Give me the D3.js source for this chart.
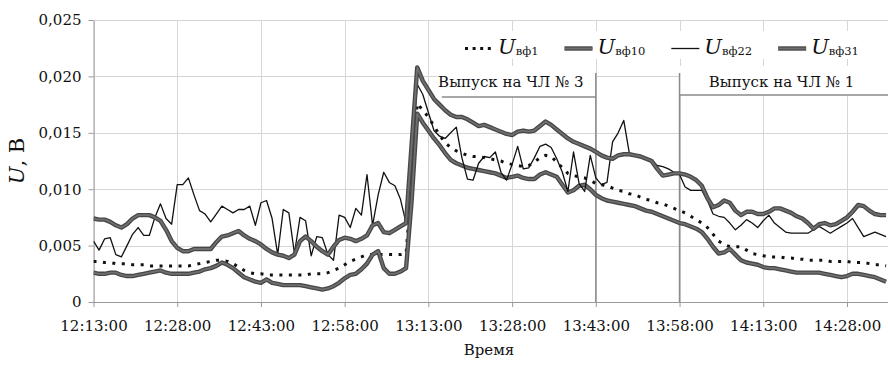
<!DOCTYPE html>
<html>
<head>
<meta charset="utf-8">
<script src="https://cdn.jsdelivr.net/npm/d3@7"></script>
<style>
  body { margin: 0; background: #fff; }
  svg { display: block; font-family: "DejaVu Serif", serif; }
</style>
</head>
<body>
<svg id="chart" width="888" height="374"></svg>
<script>
// one sample per minute from startTime, values in mV
const startTime = "12:13:00";

const u1 = [
  3.6,3.6,3.5,3.5,3.4,3.4,3.4,3.3,3.3,3.3,
  3.2,3.2,3.2,3.2,3.2,3.2,3.2,3.2,3.3,3.4,
  3.5,3.6,3.7,3.7,3.6,3.4,3.1,2.8,2.6,2.5,
  2.5,2.4,2.4,2.4,2.4,2.4,2.4,2.4,2.4,2.5,
  2.5,2.5,2.6,2.8,3.0,3.3,3.6,3.8,4.0,4.2,
  4.2,4.2,4.2,4.2,4.2,4.2,4.3,10.5,17.6,17.0,
  16.4,15.6,14.8,14.1,13.7,13.4,13.2,13.0,12.9,12.9,
  12.8,12.7,12.6,12.5,12.3,12.2,12.1,12.0,12.1,12.4,
  12.8,13.0,12.9,12.4,11.9,11.4,11.2,11.1,11.0,10.8,
  10.5,10.4,10.3,10.1,9.9,9.8,9.6,9.5,9.3,9.1,
  9.0,8.8,8.7,8.5,8.3,8.1,7.9,7.6,7.3,7.0,
  6.6,6.0,5.4,5.1,4.9,4.9,4.9,4.6,4.3,4.2,
  4.1,4.0,4.0,4.0,3.9,3.9,3.8,3.8,3.7,3.7,
  3.7,3.7,3.6,3.6,3.6,3.6,3.5,3.5,3.5,3.4,
  3.3,3.3,3.2
];

const u10 = [
  2.6,2.5,2.5,2.6,2.6,2.4,2.3,2.3,2.4,2.5,
  2.6,2.7,2.8,2.6,2.5,2.5,2.5,2.5,2.6,2.7,
  2.9,3.0,3.2,3.5,3.3,3.0,2.6,2.2,2.0,1.8,
  1.7,2.0,1.7,1.6,1.5,1.5,1.5,1.5,1.4,1.3,
  1.2,1.1,1.2,1.4,1.7,2.1,2.4,2.5,2.9,3.4,
  4.2,4.5,3.0,2.5,2.5,2.7,3.0,9.0,16.7,15.9,
  15.2,14.5,13.9,13.2,12.6,12.3,12.1,11.9,11.8,11.7,
  11.6,11.5,11.4,11.2,11.0,11.1,11.2,11.0,10.9,10.9,
  11.3,11.5,11.3,11.1,10.4,9.7,9.9,10.3,10.4,10.0,
  9.5,9.2,9.0,8.9,8.8,8.7,8.6,8.5,8.3,8.1,
  8.0,7.8,7.6,7.4,7.2,7.0,6.9,6.7,6.5,6.2,
  5.6,4.9,4.3,4.4,4.7,4.2,3.7,3.5,3.4,3.3,
  3.1,3.0,3.0,2.9,2.8,2.7,2.6,2.6,2.6,2.6,
  2.6,2.5,2.4,2.3,2.2,2.3,2.5,2.5,2.4,2.3,
  2.2,2.0,1.8
];

const u22 = [
  5.4,4.6,5.6,5.7,4.2,4.0,5.0,6.0,6.6,5.9,
  5.9,7.5,8.7,7.4,6.9,10.4,10.4,11.0,9.5,8.1,
  7.8,7.1,7.8,8.5,8.2,7.9,8.2,8.2,8.5,6.8,
  8.8,9.0,7.4,4.2,8.2,7.9,4.3,7.5,7.2,4.1,
  5.8,5.7,4.2,3.7,7.7,7.5,6.6,8.3,7.7,11.3,
  6.8,9.5,11.5,10.6,10.3,9.1,7.0,13.0,19.3,18.4,
  16.8,15.2,14.7,14.5,15.0,15.5,12.8,10.9,10.8,12.3,
  12.9,12.8,13.3,11.5,10.8,12.2,13.8,11.8,11.9,12.8,
  13.8,14.0,13.7,12.7,11.5,9.8,13.3,10.5,9.8,13.0,
  11.0,10.4,10.6,14.2,15.0,16.1,13.2,13.0,12.9,12.8,
  12.6,12.1,12.0,11.8,11.5,11.3,10.2,9.9,9.9,9.9,
  9.0,7.8,7.6,7.5,7.0,6.4,6.8,7.3,7.0,6.6,
  7.2,7.7,7.0,6.6,6.2,6.1,6.1,6.1,6.1,6.4,
  6.7,6.4,6.1,6.4,6.7,7.0,7.4,6.6,5.8,6.0,
  6.2,6.0,5.8
];

const u31 = [
  7.4,7.3,7.3,7.1,6.8,6.6,6.9,7.4,7.7,7.7,
  7.7,7.5,7.2,6.4,5.4,4.8,4.5,4.5,4.7,4.7,
  4.7,4.7,5.3,5.8,5.9,6.1,6.3,5.9,5.6,5.4,
  5.1,4.7,4.4,4.2,4.1,3.9,4.2,5.4,5.8,5.4,
  4.9,4.5,4.2,4.9,5.5,5.7,5.6,5.4,5.6,5.9,
  6.8,7.0,6.2,6.1,6.4,6.7,7.0,14.0,20.8,19.6,
  18.8,18.0,17.5,17.0,16.6,16.4,16.4,16.2,15.9,15.6,
  15.7,15.5,15.3,15.1,14.9,14.8,15.1,15.2,15.1,15.2,
  15.6,16.0,15.7,15.3,14.9,14.5,14.2,14.0,13.8,13.6,
  13.3,13.0,12.8,12.7,13.0,13.1,13.1,13.0,12.9,12.7,
  12.5,11.8,11.2,11.3,11.4,11.4,11.3,11.1,10.8,10.3,
  9.2,8.4,8.6,9.0,8.8,8.1,7.7,8.0,8.0,7.8,
  7.8,8.0,8.3,8.3,8.1,7.9,7.6,7.4,7.0,6.5,
  6.9,7.0,6.8,6.9,7.2,7.5,8.0,8.6,8.5,8.1,
  7.8,7.7,7.7
];

const seriesNames = ["вф1", "вф10", "вф22", "вф31"];
const xTickLabels = ["12:13:00", "12:28:00", "12:43:00", "12:58:00", "13:13:00",
                     "13:28:00", "13:43:00", "13:58:00", "14:13:00", "14:28:00"];
const yTicks = [0, 5, 10, 15, 20, 25];
const yTickLabels = ["0", "0,005", "0,010", "0,015", "0,020", "0,025"];
const releaseTimes = ["13:43:00", "13:58:00"];
const releaseLabels = ["Выпуск на ЧЛ № 3", "Выпуск на ЧЛ № 1"];

const svg = d3.select('#chart');
const W = 888, plotLeft = 93.5, plotTop = 20, plotBottom = 302;

const parse = d3.timeParse('%H:%M:%S');
const t0 = parse(startTime);
const times = u1.map((_, i) => d3.timeMinute.offset(t0, i));

const x = d3.scaleTime()
  .domain([parse(xTickLabels[0]), parse(xTickLabels[xTickLabels.length - 1])])
  .range([plotLeft, 847]);
const y = d3.scaleLinear().domain([0, 25]).range([plotBottom, plotTop]);

// grid
const grid = svg.append('g').attr('stroke', '#d6d6d6').attr('stroke-width', 1);
grid.selectAll('.h').data(yTicks).enter().append('line')
  .attr('x1', plotLeft).attr('x2', W)
  .attr('y1', d => Math.round(y(d)) + 0.5).attr('y2', d => Math.round(y(d)) + 0.5);
grid.selectAll('.v').data(xTickLabels).enter().append('line')
  .attr('x1', d => Math.round(x(parse(d))) + 0.5).attr('x2', d => Math.round(x(parse(d))) + 0.5)
  .attr('y1', plotTop).attr('y2', plotBottom);

// axes
const yAxis = svg.append('g')
  .attr('transform', `translate(${plotLeft},0)`)
  .call(d3.axisLeft(y).tickValues(yTicks).tickFormat((d, i) => yTickLabels[i])
    .tickSize(5).tickSizeOuter(0).tickPadding(7));
const xAxis = svg.append('g')
  .attr('transform', `translate(0,${plotBottom})`)
  .call(d3.axisBottom(x).tickValues(xTickLabels.map(parse)).tickFormat((d, i) => xTickLabels[i])
    .tickSize(5).tickSizeOuter(0).tickPadding(13));
[yAxis, xAxis].forEach(a => {
  a.selectAll('path, line').attr('stroke', '#9a9a9a');
  a.selectAll('text').attr('font-family', '"DejaVu Serif", serif').attr('font-size', 15).attr('fill', '#111');
});
svg.append('line').attr('x1', plotLeft).attr('x2', W).attr('y1', plotBottom + 0.5).attr('y2', plotBottom + 0.5)
  .attr('stroke', '#9a9a9a');

// release annotations: white boxes behind the labels
const rx = releaseTimes.map(t => x(parse(t)));
svg.append('rect').attr('x', rx[0] - 157).attr('y', 66).attr('width', 157).attr('height', 31).attr('fill', '#fff');
svg.append('rect').attr('x', rx[1]).attr('y', 66).attr('width', W - rx[1]).attr('height', 29).attr('fill', '#fff');

// legend background
svg.append('rect').attr('x', 452).attr('y', 31).attr('width', W - 452).attr('height', 28).attr('fill', '#fff');

const ann = svg.append('g').attr('stroke', '#8a8a8a').attr('stroke-width', 1.5);
ann.append('line').attr('x1', rx[0]).attr('x2', rx[0]).attr('y1', 73).attr('y2', plotBottom);
ann.append('line').attr('x1', rx[0] - 154).attr('x2', rx[0]).attr('y1', 97).attr('y2', 97);
ann.append('line').attr('x1', rx[1]).attr('x2', rx[1]).attr('y1', 73).attr('y2', plotBottom);
ann.append('line').attr('x1', rx[1]).attr('x2', W).attr('y1', 95).attr('y2', 95);
svg.append('text').attr('x', rx[0] - 85).attr('y', 87).attr('text-anchor', 'middle')
  .attr('font-size', 15).attr('fill', '#111').text(releaseLabels[0]);
svg.append('text').attr('x', rx[1] + 102).attr('y', 87).attr('text-anchor', 'middle')
  .attr('font-size', 15).attr('fill', '#111').text(releaseLabels[1]);

// series
const kinds = ['dot', 'thick', 'thin', 'thick'];
const values = [u1, u10, u22, u31];

function stroke(g, d, kind, legend) {
  if (kind === 'thick') {
    g.append('path').attr('d', d).attr('fill', 'none').attr('stroke', '#474747')
      .attr('stroke-width', 4.4).attr('stroke-linejoin', 'round');
    g.append('path').attr('d', d).attr('fill', 'none').attr('stroke', '#6f6f6f')
      .attr('stroke-width', 1.8).attr('stroke-linejoin', 'round');
  } else if (kind === 'thin') {
    g.append('path').attr('d', d).attr('fill', 'none').attr('stroke', '#111')
      .attr('stroke-width', 1.3).attr('stroke-linejoin', 'round');
  } else {
    g.append('path').attr('d', d).attr('fill', 'none').attr('stroke', '#111')
      .attr('stroke-width', 3).attr('stroke-dasharray', legend ? '3,4.6' : '3,6.5');
  }
}

svg.append('clipPath').attr('id', 'clip').append('rect')
  .attr('x', plotLeft).attr('y', 0).attr('width', W - plotLeft).attr('height', 374);
const plot = svg.append('g').attr('clip-path', 'url(#clip)');
const line = d3.line().x((d, i) => x(times[i])).y(d => y(d));
values.forEach((v, k) => stroke(plot.append('g'), line(v), kinds[k], false));

// legend
const legend = svg.append('g');
let lx = 465;
seriesNames.forEach((name, k) => {
  stroke(legend.append('g'), `M${lx},48.5H${lx + 28}`, kinds[k], true);
  const t = legend.append('text').attr('x', lx + 33).attr('y', 54).attr('fill', '#111');
  t.append('tspan').attr('font-style', 'italic').attr('font-size', 21).text('U');
  t.append('tspan').attr('font-size', 11.5).attr('dy', 1).text(name);
  lx += 33 + t.node().getComputedTextLength() + 26;
});

// axis titles
const yl = svg.append('text').attr('transform', 'translate(24,161) rotate(-90)')
  .attr('text-anchor', 'middle').attr('font-size', 21).attr('fill', '#111');
yl.append('tspan').attr('font-style', 'italic').text('U');
yl.append('tspan').text(', В');
svg.append('text').attr('x', 489).attr('y', 355).attr('text-anchor', 'middle')
  .attr('font-size', 15).attr('fill', '#111').text('Время');
</script>
</body>
</html>
